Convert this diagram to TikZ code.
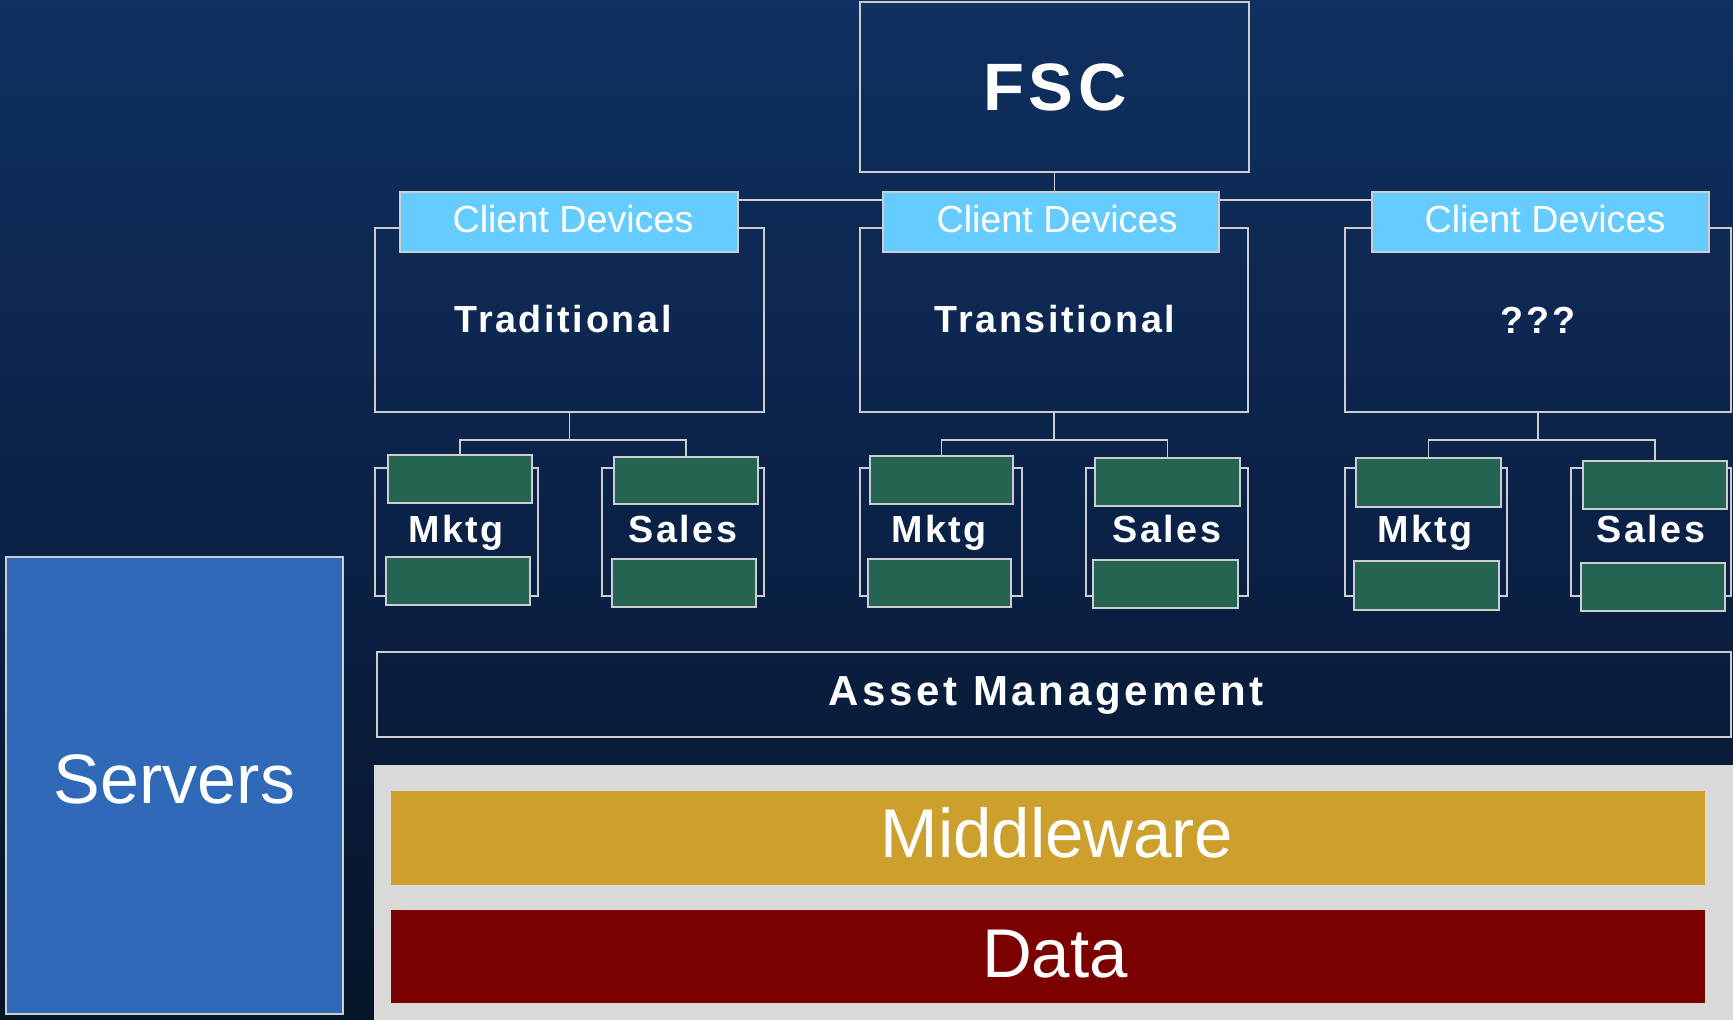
\documentclass[tikz,border=0pt]{standalone}
\usepackage{fontspec}
\setmainfont{Liberation Sans}
\newfontfamily\spacedbold[LetterSpace=7]{Liberation Sans Bold}
\newfontfamily\wideblod[LetterSpace=9]{Liberation Sans Bold}
\definecolor{bgtop}{RGB}{15,48,96}
\definecolor{bgmid}{RGB}{11,34,72}
\definecolor{bgbot}{RGB}{6,20,40}
\definecolor{lineg}{RGB}{205,205,205}
\definecolor{hdrfill}{RGB}{102,204,255}
\definecolor{grnfill}{RGB}{37,100,83}
\definecolor{srvfill}{RGB}{47,105,184}
\definecolor{panel}{RGB}{217,217,217}
\definecolor{midfill}{RGB}{205,160,46}
\definecolor{datafill}{RGB}{123,0,0}
\tikzset{
  box/.style={draw=lineg, line width=1.5pt, inner sep=0pt, outer sep=0pt, anchor=north west},
  hdr/.style={box, fill=hdrfill},
  hdrt/.style={text=white, inner sep=0pt, anchor=base, font=\fontsize{37.7}{40}\selectfont},
  grn/.style={box, fill=grnfill},
  lbl/.style={text=white, inner sep=0pt, anchor=base, font=\spacedbold\fontsize{37.7}{40}\selectfont},
  conn/.style={draw=lineg, line width=1.5pt},
  bar/.style={inner sep=0pt, outer sep=0pt, anchor=north west},
  bigt/.style={text=white, inner sep=0pt, anchor=base, font=\fontsize{69}{72}\selectfont},
}
\begin{document}
\begin{tikzpicture}[x=1pt,y=-1pt]
\useasboundingbox (0,0) rectangle (1733,1020);
\shade[top color=bgtop, bottom color=bgbot, middle color=bgmid] (0,0) rectangle (1733,1020);

% top box and connectors
\coordinate (hl) at (569,200);
\coordinate (hr) at (1539,200);
\node[box, minimum width=389pt, minimum height=170pt] (fsc) at (860,2) {};
\node[lbl, font=\spacedbold\fontsize{67}{70}\selectfont] (fsct) at (1055,110) {FSC};
\draw[conn] (fsc.south) -- (1054.5,200);
\draw[conn] (hl) -- (hr);

% category boxes
\node[box, minimum width=389pt, minimum height=184pt] (trad) at (375,228) {};
\node[box, minimum width=388pt, minimum height=184pt] (trans) at (860,228) {};
\node[box, minimum width=386pt, minimum height=184pt] (unk) at (1345,228) {};
\node[lbl] (tradt) at (563,332) {Traditional};
\node[lbl] (transt) at (1055,332) {Transitional};
\node[lbl] (unkt) at (1538,333) {???};

% headers
\node[hdr, minimum width=338pt, minimum height=60pt] (h1) at (400,192) {};
\node[hdr, minimum width=336pt, minimum height=60pt] (h2) at (883,192) {};
\node[hdr, minimum width=337pt, minimum height=60pt] (h3) at (1372,192) {};
\node[hdrt] (h1t) at (573,232) {Client Devices};
\node[hdrt] (h2t) at (1057,232) {Client Devices};
\node[hdrt] (h3t) at (1545,232) {Client Devices};

% group frames
\node[box, minimum width=163pt, minimum height=128pt] (f1) at (375,468) {};
\node[box, minimum width=162pt, minimum height=128pt] (f2) at (602,468) {};
\node[box, minimum width=162pt, minimum height=128pt] (f3) at (860,468) {};
\node[box, minimum width=162pt, minimum height=128pt] (f4) at (1086,468) {};
\node[box, minimum width=162pt, minimum height=128pt] (f5) at (1345,468) {};
\node[box, minimum width=160pt, minimum height=128pt] (f6) at (1571,468) {};

% green top boxes
\node[grn, minimum width=144pt, minimum height=48pt] (t1) at (388,455) {};
\node[grn, minimum width=144pt, minimum height=47pt] (t2) at (614,457) {};
\node[grn, minimum width=143pt, minimum height=48pt] (t3) at (870,456) {};
\node[grn, minimum width=145pt, minimum height=48pt] (t4) at (1095,458) {};
\node[grn, minimum width=145pt, minimum height=49pt] (t5) at (1356,458) {};
\node[grn, minimum width=144pt, minimum height=48pt] (t6) at (1583,461) {};
% green bottom boxes
\node[grn, minimum width=144pt, minimum height=48pt] (b1) at (386,557) {};
\node[grn, minimum width=144pt, minimum height=48pt] (b2) at (612,559) {};
\node[grn, minimum width=143pt, minimum height=48pt] (b3) at (868,559) {};
\node[grn, minimum width=145pt, minimum height=48pt] (b4) at (1093,560) {};
\node[grn, minimum width=145pt, minimum height=49pt] (b5) at (1354,561) {};
\node[grn, minimum width=144pt, minimum height=48pt] (b6) at (1581,563) {};

% tree connectors
\draw[conn] (trad.south) -- ++(0,28) -| (t1.north);
\draw[conn] (trad.south) ++(0,28) -| (t2.north);
\draw[conn] (trans.south) -- ++(0,28) -| (t3.north);
\draw[conn] (trans.south) ++(0,28) -| (t4.north);
\draw[conn] (unk.south) -- ++(0,28) -| (t5.north);
\draw[conn] (unk.south) ++(0,28) -| (t6.north);

% group labels
\node[lbl] (m1) at (456,542) {Mktg};
\node[lbl] (s1) at (683,542) {Sales};
\node[lbl] (m2) at (939,542) {Mktg};
\node[lbl] (s2) at (1167,542) {Sales};
\node[lbl] (m3) at (1425,542) {Mktg};
\node[lbl] (s3) at (1651,542) {Sales};

% asset management
\node[box, minimum width=1354pt, minimum height=85pt] (asset) at (377,652) {};
\node[text=white, inner sep=0pt, anchor=base, font=\wideblod\fontsize{42}{44}\selectfont] (assett) at (1046,705) {Asset Management};

% bottom panel
\node[bar, fill=panel, minimum width=1359pt, minimum height=255pt] (pnl) at (374,765) {};
\node[bar, fill=midfill, minimum width=1314pt, minimum height=94pt] (mw) at (391,791) {};
\node[bar, fill=datafill, minimum width=1314pt, minimum height=93pt] (data) at (391,910) {};
\node[bigt] (mwt) at (1057,857) {Middleware};
\node[bigt] (datat) at (1055,977) {Data};

% servers
\node[box, fill=srvfill, minimum width=337pt, minimum height=457pt] (srv) at (6,557) {};
\node[bigt, font=\fontsize{70}{72}\selectfont] (srvt) at (174.5,803) {Servers};
\end{tikzpicture}
\end{document}
